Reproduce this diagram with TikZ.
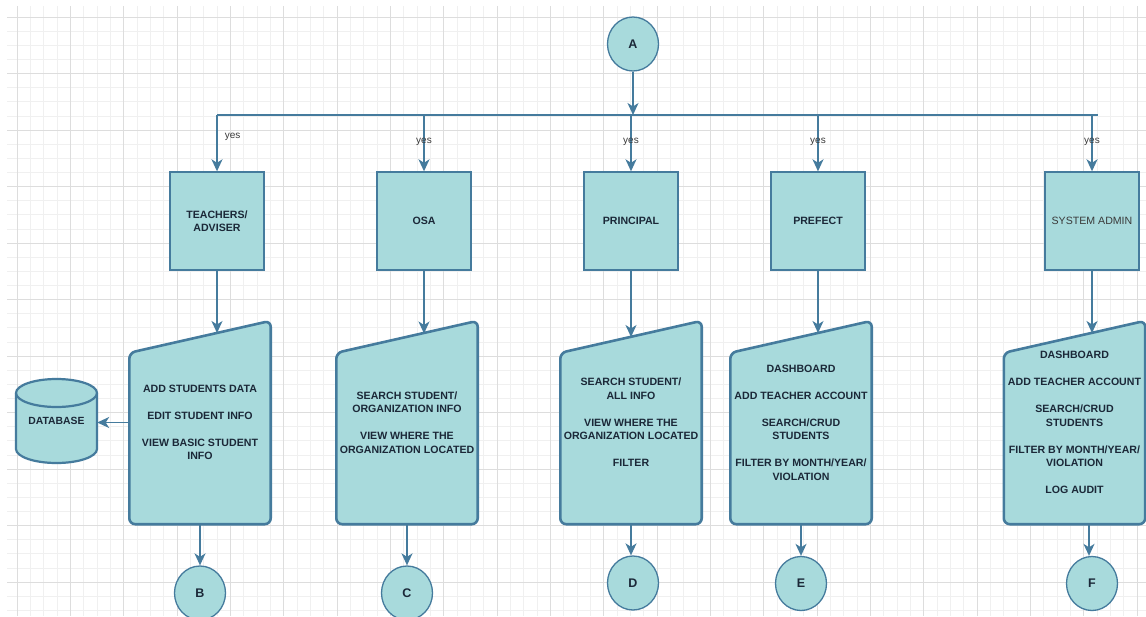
\documentclass[tikz,border=0pt]{standalone}
\usepackage{fontspec}
\setmainfont{Liberation Sans}
\usetikzlibrary{arrows.meta,shapes.geometric,calc}
\definecolor{fillc}{HTML}{A8DADC}
\definecolor{strokec}{HTML}{457B9D}
\definecolor{txtc}{HTML}{1B2838}
\definecolor{graytxt}{HTML}{3A3A3A}
\definecolor{gridmaj}{HTML}{DDDDDD}
\definecolor{gridmin}{HTML}{F0F0F0}
\pgfdeclarelayer{background}
\pgfsetlayers{background,main}
\begin{document}
\begin{tikzpicture}[x=1pt,y=-1pt,
  lbl/.style={font=\fontsize{10.6}{13.5}\selectfont\bfseries, text=txtc, align=center},
  conncircle/.style={ellipse, draw=strokec, fill=fillc, line width=1.3pt, minimum width=51pt, minimum height=54pt, inner sep=0pt, font=\fontsize{12.5}{14}\selectfont\bfseries, text=txtc},
  rolebox/.style={rectangle, draw=strokec, fill=fillc, line width=1.4pt, minimum width=94pt, minimum height=98pt, inner sep=1pt, lbl},
  trapbody/.style={rectangle, minimum width=141pt, minimum height=203pt, inner sep=0pt, lbl},
  trapline/.style={draw=strokec, fill=fillc, line width=2.6pt, rounded corners=6pt, line join=round},
  dbbody/.style={rectangle, minimum width=81pt, minimum height=84pt, inner sep=0pt, font=\fontsize{10.4}{12}\selectfont\bfseries, text=txtc},
  flow/.style={draw=strokec, line width=1.6pt},
  conn/.style={flow, -{Stealth[length=12pt,width=11pt,inset=3.5pt]}},
  yeslab/.style={font=\fontsize{10}{12}\selectfont, text=graytxt, inner sep=0pt}
]
\useasboundingbox (0,0) rectangle (1146,616);

% ---------- nodes ----------
\node[conncircle] (A) at (633,44) {A};

\node[rolebox] (T)    at (217,221) {TEACHERS/\\ADVISER};
\node[rolebox] (OSA)  at (424,221) {OSA};
\node[rolebox] (PRIN) at (631,221) {PRINCIPAL};
\node[rolebox] (PREF) at (818,221) {PREFECT};
\node[rolebox, font=\fontsize{10.6}{13.5}\selectfont\mdseries, text=graytxt] (SYS) at (1092,221) {SYSTEM ADMIN};

\node[trapbody] (pT) at (200,422.5) {ADD STUDENTS DATA\\[13.5pt]EDIT STUDENT INFO\\[13.5pt]VIEW BASIC STUDENT\\INFO};
\node[trapbody] (pO) at (407,422.5) {SEARCH STUDENT/\\ORGANIZATION INFO\\[13.5pt]VIEW WHERE THE\\ORGANIZATION LOCATED};
\node[trapbody] (pP) at (631,422.5) {SEARCH STUDENT/\\ALL INFO\\[13.5pt]VIEW WHERE THE\\ORGANIZATION LOCATED\\[13.5pt]FILTER};
\node[trapbody] (pR) at (801,422.5) {DASHBOARD\\[13.5pt]ADD TEACHER ACCOUNT\\[13.5pt]SEARCH/CRUD\\STUDENTS\\[13.5pt]FILTER BY MONTH/YEAR/\\VIOLATION};
\node[trapbody] (pS) at (1074.5,422.5) {DASHBOARD\\[13.5pt]ADD TEACHER ACCOUNT\\[13.5pt]SEARCH/CRUD\\STUDENTS\\[13.5pt]FILTER BY MONTH/YEAR/\\VIOLATION\\[13.5pt]LOG AUDIT};

\node[dbbody] (DB) at (56.5,421) {DATABASE};

\node[conncircle] (B) at (200,593) {B};
\node[conncircle] (C) at (407,593) {C};
\node[conncircle] (D) at (633,583) {D};
\node[conncircle] (E) at (801,583.5) {E};
\node[conncircle] (F) at (1092,583.5) {F};

\coordinate (busL) at (217,115);
\coordinate (busR) at (1098,115);
\coordinate (busA) at (633,115);
\coordinate (inT) at (217,333);
\coordinate (inO) at (424,333.5);
\coordinate (inP) at (631,337);
\coordinate (inR) at (818,333);
\coordinate (inS) at (1092,333);

% ---------- background: grid and shapes ----------
\begin{pgfonlayer}{background}
  \fill[white] (0,0) rectangle (1146,616);
  \begin{scope}
    \clip (7,6) rectangle (1146,616);
    \foreach \i in {-1,...,85} \draw[gridmin, line width=0.6pt] ({17+\i*13.3333},6) -- ({17+\i*13.3333},616);
    \foreach \j in {-1,...,43} \draw[gridmin, line width=0.6pt] (7,{17+\j*14.125}) -- (1146,{17+\j*14.125});
    \foreach \i in {0,...,21} \draw[gridmaj, line width=0.8pt] ({17+\i*53.3333},6) -- ({17+\i*53.3333},616);
    \foreach \j in {0,...,10} \draw[gridmaj, line width=0.8pt] (7,{17+\j*56.5}) -- (1146,{17+\j*56.5});
  \end{scope}
  \foreach \n in {pT,pO,pP,pR,pS}
    \path[trapline] (\n.south west) -- ($(\n.north west)+(0,32)$) -- (\n.north east) -- (\n.south east) -- cycle;
  % database cylinder
  \path[draw=strokec, fill=fillc, line width=2.2pt]
    (16,393) -- (16,449) .. controls (16,456.7) and (34.1,463) .. (56.5,463)
    .. controls (78.9,463) and (97,456.7) .. (97,449) -- (97,393)
    .. controls (97,385.3) and (78.9,379) .. (56.5,379)
    .. controls (34.1,379) and (16,385.3) .. (16,393) -- cycle;
  \draw[strokec, line width=2.2pt] (16,393) .. controls (16,400.7) and (34.1,407) .. (56.5,407)
    .. controls (78.9,407) and (97,400.7) .. (97,393);
\end{pgfonlayer}

% ---------- connectors ----------
\draw[conn] (A) -- (busA);
\draw[flow] (busL) -- (busR);
\draw[conn] (busL) -- node[yeslab, anchor=west, pos=0.39, xshift=7pt] {yes} (T.north);
\draw[conn] (OSA.north |- busL) -- node[yeslab, pos=0.47] {yes} (OSA.north);
\draw[conn] (PRIN.north |- busL) -- node[yeslab, pos=0.47] {yes} (PRIN.north);
\draw[conn] (PREF.north |- busL) -- node[yeslab, pos=0.47] {yes} (PREF.north);
\draw[conn] (SYS.north |- busL) -- node[yeslab, pos=0.47] {yes} (SYS.north);

\draw[conn] (T.south) -- (inT);
\draw[conn] (OSA.south) -- (inO);
\draw[conn] (PRIN.south) -- (inP);
\draw[conn] (PREF.south) -- (inR);
\draw[conn] (SYS.south) -- (inS);

\draw[conn] (pT.west) -- (pT.west -| DB.east);

\draw[conn] (pT.south) -- (B.north);
\draw[conn] (pO.south) -- (C.north);
\draw[conn] (pP.south) -- (pP.south |- D.north);
\draw[conn] (pR.south) -- (E.north);
\draw[conn] ($(F.north |- pS.south)+(-3,0)$) -- ($(F.north)+(-3,0)$);
\end{tikzpicture}
\end{document}
